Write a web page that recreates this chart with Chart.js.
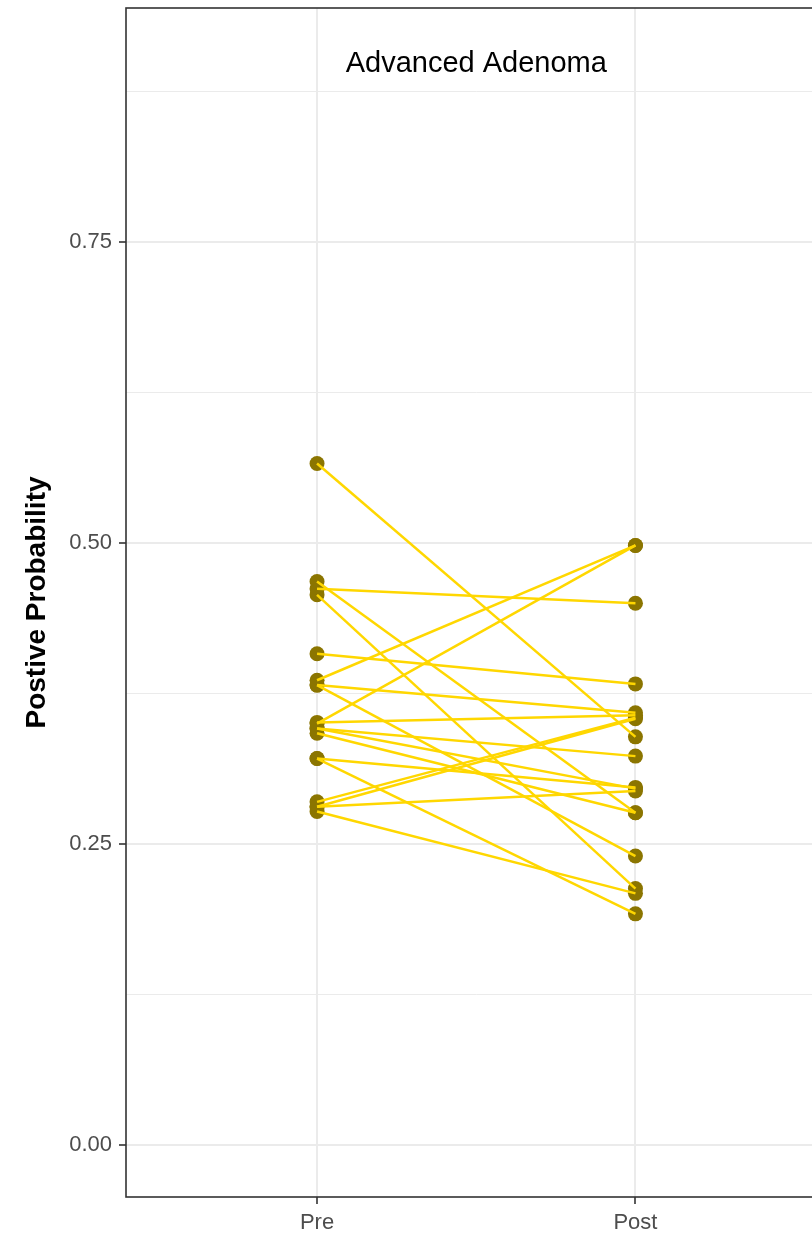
<!DOCTYPE html>
<html>
<head>
<meta charset="utf-8">
<script src="https://cdn.jsdelivr.net/npm/chart.js@4.4.1/dist/chart.umd.min.js"></script>
<style>
  html, body { margin: 0; padding: 0; background: #ffffff; overflow: hidden; width: 812px; height: 1235px; }
  #wrap { width: 834px; height: 1235px; }
</style>
</head>
<body>
<div id="wrap"><canvas id="c" width="834" height="1235"></canvas></div>
<script>
// Paired measurements: each subject has one Pre and one Post probability.
const categories = ['Pre', 'Post'];
const preValues  = [0.566, 0.462, 0.468, 0.457, 0.408, 0.386, 0.382, 0.382, 0.350, 0.351,
                    0.346, 0.346, 0.342, 0.321, 0.321, 0.285, 0.281, 0.281, 0.277];
const postValues = [0.339, 0.450, 0.276, 0.213, 0.383, 0.498, 0.359, 0.240, 0.498, 0.357,
                    0.323, 0.296, 0.276, 0.297, 0.192, 0.355, 0.354, 0.294, 0.209];
const yTickValues = [0, 0.125, 0.25, 0.375, 0.5, 0.625, 0.75, 0.875];
const panelLabel = 'Advanced Adenoma';
const yAxisTitle = 'Postive Probability';

const FONT = "'Liberation Sans', Arial, Helvetica, sans-serif";
const LINE_COLOR = '#FFD700';
const POINT_COLOR = '#8B7500';
const GRID_COLOR = '#EBEBEB';
const FRAME_COLOR = '#333333';

const isMajor = v => Math.abs(v / 0.25 - Math.round(v / 0.25)) < 1e-6;

// one segment per subject
const lineSets = preValues.map((p, i) => ({
  data: [{ x: 1, y: p }, { x: 2, y: postValues[i] }],
  showLine: true,
  borderColor: LINE_COLOR,
  borderWidth: 2.5,
  pointRadius: 0,
  pointHoverRadius: 0,
  order: 1
}));

const pointSet = {
  data: preValues.map(p => ({ x: 1, y: p })).concat(postValues.map(q => ({ x: 2, y: q }))),
  showLine: false,
  pointRadius: 7.5,
  pointBackgroundColor: POINT_COLOR,
  pointBorderColor: POINT_COLOR,
  pointBorderWidth: 0,
  order: 2
};

const panelFrame = {
  id: 'panelFrame',
  beforeDatasetsDraw(chart) {
    const { ctx, chartArea: a } = chart;
    ctx.save();
    ctx.strokeStyle = FRAME_COLOR;
    ctx.lineWidth = 1.6;
    ctx.strokeRect(a.left, a.top, a.right - a.left, a.bottom - a.top);
    ctx.restore();
  },
  afterDraw(chart) {
    const { ctx, scales } = chart;
    ctx.save();
    ctx.fillStyle = '#000000';
    ctx.font = '29px ' + FONT;
    ctx.textAlign = 'center';
    ctx.textBaseline = 'alphabetic';
    // panel label sits around y = 0.9, centred between the two groups
    ctx.fillText(panelLabel, scales.x.getPixelForValue(1.5), scales.y.getPixelForValue(0.9) + 11);
    ctx.restore();
  }
};

new Chart(document.getElementById('c'), {
  type: 'scatter',
  data: { datasets: lineSets.concat([pointSet]) },
  options: {
    responsive: false,
    animation: false,
    devicePixelRatio: 1,
    layout: { padding: { top: 8, right: 3, left: 0, bottom: 0 } },
    plugins: { legend: { display: false }, tooltip: { enabled: false } },
    scales: {
      x: {
        type: 'linear',
        min: 0.4,
        max: 2.6,
        afterBuildTicks(scale) { scale.ticks = categories.map((c, i) => ({ value: i + 1 })); },
        afterFit(scale) {
          scale.height = 38;
          scale.paddingLeft = 0;
          scale.paddingRight = 0;
        },
        ticks: {
          callback: v => categories[Math.round(v) - 1] || '',
          color: '#4D4D4D',
          font: { family: FONT, size: 22 },
          padding: 6,
          maxRotation: 0,
          autoSkip: false
        },
        grid: { color: GRID_COLOR, lineWidth: 2, tickLength: 7, tickColor: FRAME_COLOR, tickWidth: 1.6 },
        border: { display: false }
      },
      y: {
        type: 'linear',
        min: -0.0432,
        max: 0.9444,
        afterBuildTicks(scale) { scale.ticks = yTickValues.map(v => ({ value: v })); },
        afterFit(scale) {
          scale.width = 126;
          scale.paddingTop = 0;
          scale.paddingBottom = 0;
        },
        ticks: {
          callback: v => isMajor(v) ? v.toFixed(2) : '',
          color: '#4D4D4D',
          font: { family: FONT, size: 22 },
          padding: 7,
          autoSkip: false
        },
        grid: {
          color: GRID_COLOR,
          lineWidth: ctx => isMajor(ctx.tick.value) ? 2 : 1,
          tickLength: 7,
          tickColor: ctx => isMajor(ctx.tick.value) ? FRAME_COLOR : 'rgba(0,0,0,0)',
          tickWidth: 1.6
        },
        border: { display: false },
        title: {
          display: true,
          text: yAxisTitle,
          color: '#000000',
          font: { family: FONT, size: 28, weight: 'bold' },
          padding: { top: 20, bottom: 0 }
        }
      }
    }
  },
  plugins: [panelFrame]
});
</script>
</body>
</html>
